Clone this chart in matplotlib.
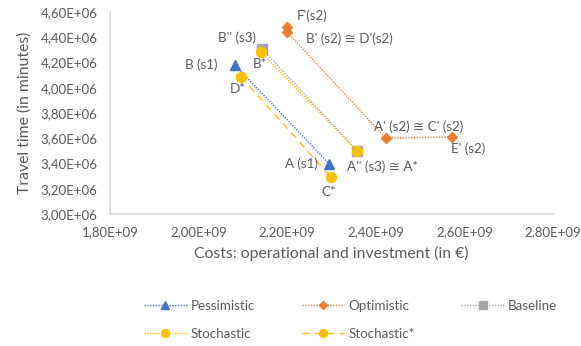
import matplotlib
matplotlib.use("Agg")
import matplotlib.pyplot as plt
from matplotlib.ticker import FuncFormatter, MultipleLocator

plt.rcParams['font.family'] = ['Lato', 'DejaVu Sans']

# data (costs in EUR, travel time in minutes)
pess_x = [2.082e9, 2.294e9]
pess_y = [4.18e6, 3.40e6]
opt_x = [2.20e9, 2.20e9, 2.423e9, 2.572e9]
opt_y = [4.48e6, 4.44e6, 3.60e6, 3.61e6]
base_x = [2.143e9, 2.358e9]
base_y = [4.31e6, 3.50e6]
stoch_x = [2.141e9, 2.358e9]
stoch_y = [4.28e6, 3.50e6]
stoch2_x = [2.096e9, 2.299e9]
stoch2_y = [4.085e6, 3.293e6]

# point labels: (text, x, y, offset in pixels)
labels = [
    ("B (s1)", pess_x[0], pess_y[0], (-34, 0)),
    ("A (s1)", pess_x[1], pess_y[1], (-27, 0)),
    ("F'(s2)", opt_x[0], opt_y[0], (25, 11)),
    ("B' (s2) \u2245 D'(s2)", opt_x[1], opt_y[1], (62, -7)),
    ("A' (s2) \u2245 C' (s2)", opt_x[2], opt_y[2], (33, 12)),
    ("E' (s2)", opt_x[3], opt_y[3], (16, -12)),
    ("B'' (s3)", base_x[0], base_y[0], (-25, 11)),
    ("A'' (s3) \u2245 A*", base_x[1], base_y[1], (25, -16)),
    ("B*", stoch_x[0], stoch_y[0], (-1, -12)),
    ("D*", stoch2_x[0], stoch2_y[0], (-3, -12)),
    ("C*", stoch2_x[1], stoch2_y[1], (-2, -15)),
]

blue = "#4472C4"
orange = "#ED7D31"
grey = "#A5A5A5"
yellow = "#FFC000"
txt = "#595959"
dots = (0, (1, 1))

fig = plt.figure(figsize=(5.81, 3.46), dpi=100)
ax = fig.add_axes([110/581, 1-214/346, 443/581, 202/346])

l1, = ax.plot(pess_x, pess_y, ls=dots, color=blue, lw=1, marker="^", ms=6.5, label="Pessimistic")
l2, = ax.plot(opt_x, opt_y, ls=dots, color=orange, lw=1, marker="D", ms=5, label="Optimistic")
l3, = ax.plot(base_x, base_y, ls=dots, color=grey, lw=1, marker="s", ms=7, label="Baseline")
l4, = ax.plot(stoch_x, stoch_y, ls=dots, color=yellow, lw=1, marker="o", ms=7.2, label="Stochastic")
l5, = ax.plot(stoch2_x, stoch2_y, ls=(0, (5, 4)), color=yellow, lw=1, marker="o", ms=7.2, label="Stochastic*")

for t, x, y, off in labels:
    ax.annotate(t, xy=(x, y), xytext=off, textcoords="offset pixels",
                ha="center", va="center", fontsize=9.6, color=txt)

ax.set_xlim(1.8e9, 2.8e9)
ax.set_ylim(3.0e6, 4.6e6)
ax.xaxis.set_major_locator(MultipleLocator(0.2e9))
ax.yaxis.set_major_locator(MultipleLocator(0.2e6))
fmt = FuncFormatter(lambda v, p: f"{v:.2E}".replace(".", ","))
ax.xaxis.set_major_formatter(fmt)
ax.yaxis.set_major_formatter(fmt)
ax.tick_params(length=0, labelsize=9.5, labelcolor=txt, pad=9)

for s in ["top", "right"]:
    ax.spines[s].set_visible(False)
for s in ["left", "bottom"]:
    ax.spines[s].set_color("#D9D9D9")
    ax.spines[s].set_linewidth(1.2)

ax.set_xlabel("Costs: operational and investment (in \u20ac)", fontsize=11.3, color=txt, labelpad=5)
ax.set_ylabel("Travel time (in minutes)", fontsize=11.3, color=txt, labelpad=6)

fig.legend(handles=[l1, l4, l2, l5, l3], ncol=3, frameon=False, fontsize=9.6,
           labelcolor=txt, handlelength=3.2, handletextpad=0.3, columnspacing=3.5,
           labelspacing=1.2, markerscale=0.8, loc="upper left",
           bbox_to_anchor=(132/581, 1-288/346))

fig.savefig("out.png", dpi=100)
